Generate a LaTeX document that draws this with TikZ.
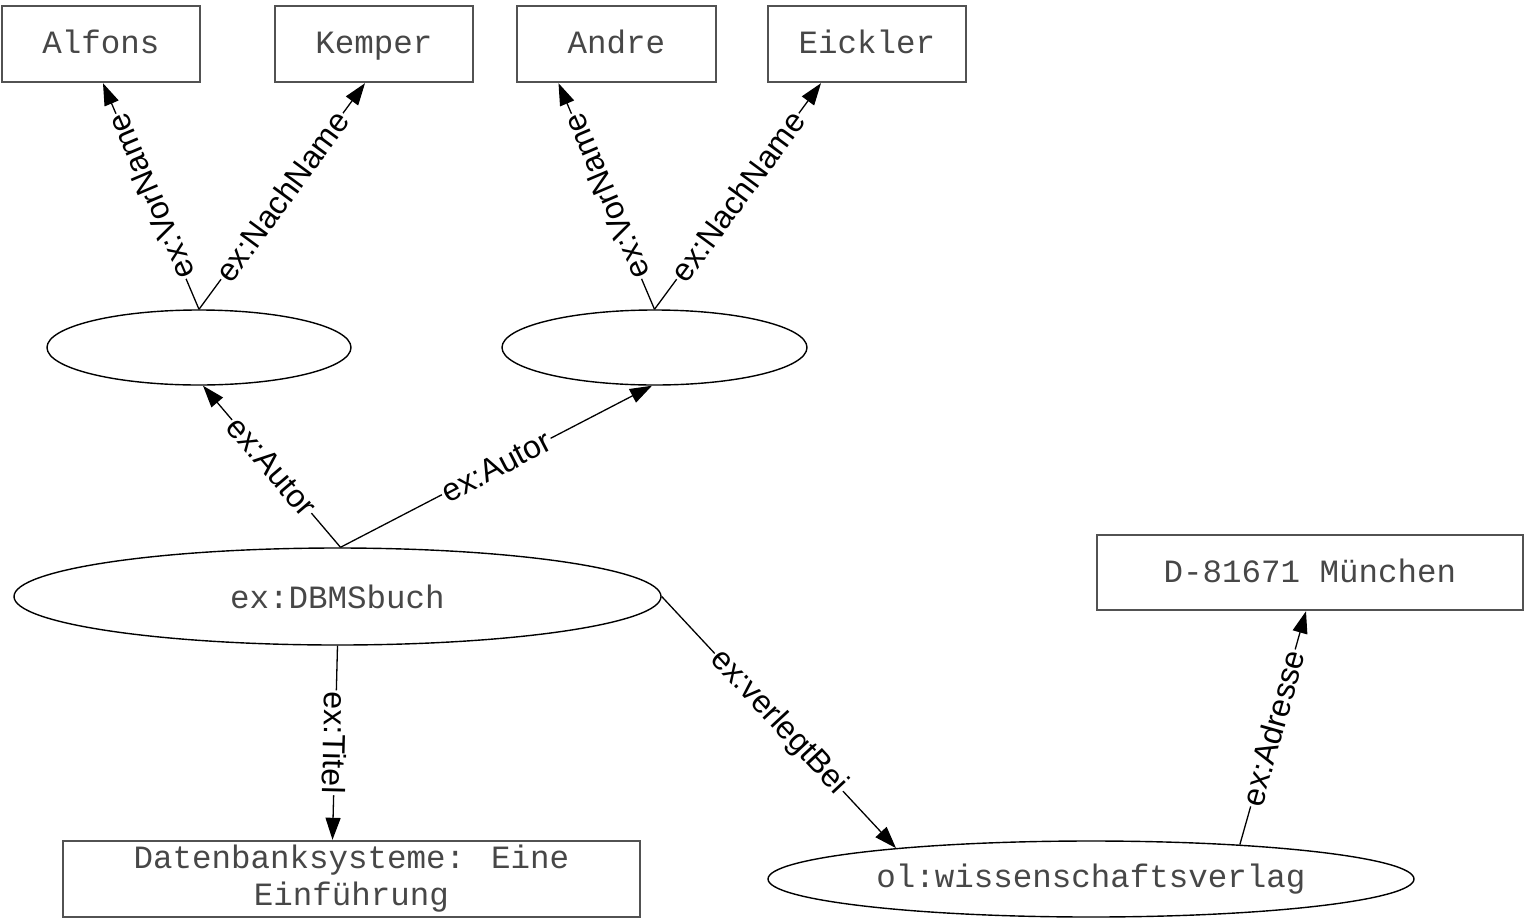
\documentclass[tikz,border=0pt]{standalone}
\usepackage{fontspec}
\setmainfont{Liberation Sans}
\newfontfamily\monofont{Liberation Mono}
\usetikzlibrary{shapes.geometric,arrows.meta}
\begin{document}
\begin{tikzpicture}[x=1pt,y=-1pt,
  lit/.style={draw=black!68, line width=2.4pt, rectangle, inner sep=0pt,
    font=\monofont\fontsize{32.5}{37}\selectfont, text=black!72, align=center},
  oneline/.style={text height=22.5pt, text depth=3.5pt},
  res/.style={draw=black, line width=1.4pt, ellipse, inner sep=0pt,
    font=\monofont\fontsize{32.5}{37}\selectfont, text=black!72},
  rel/.style={draw=black, line width=1.3pt, -{Triangle[length=22pt,width=15pt]}},
  lbl/.style={fill=white, inner sep=1.5pt, font=\fontsize{32}{36}\selectfont, sloped, midway}
]
\useasboundingbox[fill=white] (0,0) rectangle (1524,919);

% literal boxes
\node[lit, oneline, minimum width=198, minimum height=76] (alfons)  at (101,44)    {Alfons};
\node[lit, oneline, minimum width=198, minimum height=76] (kemper)  at (374,44)    {Kemper};
\node[lit, oneline, minimum width=199, minimum height=76] (andre)   at (616.5,44)  {Andre};
\node[lit, oneline, minimum width=198, minimum height=76] (eickler) at (867,44)    {Eickler};
\node[lit, minimum width=577, minimum height=76] (db)      at (351.5,879) {Datenbanksysteme: Eine\\Einführung};
\node[lit, oneline, minimum width=426, minimum height=75] (muench)  at (1310,572.5) {D-81671 München};

% resources
\node[res, minimum width=304, minimum height=75] (b1)     at (199,347.5)   {};
\node[res, minimum width=305, minimum height=75] (b2)     at (654.5,347.5) {};
\node[res, minimum width=647, minimum height=97] (dbms)   at (337.5,596.5) {ex:DBMSbuch};
\node[res, minimum width=646, minimum height=76] (wissen) at (1091,879)     {ol:wissenschaftsverlag};

% connectors
\draw[rel] (b1.north) -- ([xshift=2pt]alfons.south) node[lbl, allow upside down] {ex:VorName};
\draw[rel] (b1.north) -- ([xshift=-9pt]kemper.south) node[lbl] {ex:NachName};
\draw[rel] (b2.north) -- ([xshift=-58pt]andre.south) node[lbl, allow upside down] {ex:VorName};
\draw[rel] (b2.north) -- ([xshift=-46pt]eickler.south) node[lbl] {ex:NachName};
\draw[rel] ([xshift=3pt]dbms.north) -- ([xshift=4pt]b1.south) node[lbl] {ex:Autor};
\draw[rel] ([xshift=3pt]dbms.north) -- ([xshift=-2.5pt]b2.south) node[lbl] {ex:Autor};
\draw[rel] (dbms.south) -- ([xshift=-19pt]db.north) node[lbl, allow upside down] {ex:Titel};
\draw[rel] (dbms.east) -- (wissen.171) node[lbl] {ex:verlegtBei};
\draw[rel] (wissen.13) -- ([xshift=-4pt]muench.south) node[lbl] {ex:Adresse};
\end{tikzpicture}
\end{document}
